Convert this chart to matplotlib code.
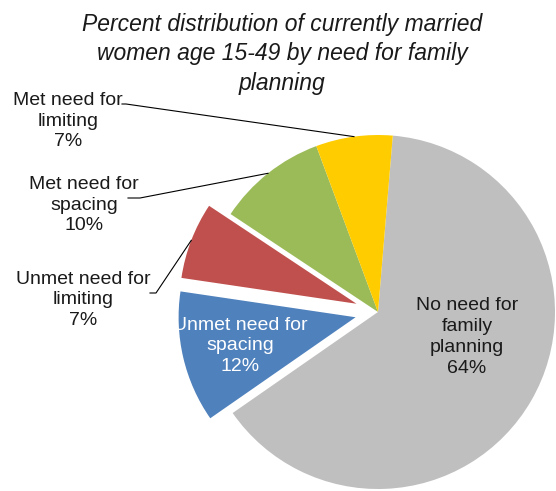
import numpy as np
import matplotlib
matplotlib.use("Agg")
import matplotlib.pyplot as plt

plt.rcParams['font.family'] = ['Liberation Sans', 'DejaVu Sans']

categories = ["No need for\nfamily\nplanning", "Unmet need for\nspacing", "Unmet need for\nlimiting",
              "Met need for\nspacing", "Met need for\nlimiting"]
values = [64, 12, 7, 10, 7]
colors = ["#BFBFBF", "#4F81BD", "#C0504D", "#9BBB59", "#FFCC00"]
explode = [0, 0.13, 0.13, 0, 0]
title = "Percent distribution of currently married\nwomen age 15-49 by need for family\nplanning"

W, H = 556, 491
R = 177.0
cx, cy = 378, 312

fig = plt.figure(figsize=(W / 100, H / 100), dpi=100)
ax = fig.add_axes([0, 0, 1, 1])

wedges, _ = ax.pie(values, colors=colors, explode=explode, startangle=85.2,
                   counterclock=False, radius=1)
ax.set_xlim(-cx / R, (W - cx) / R)
ax.set_ylim(-(H - cy) / R, cy / R)
ax.set_aspect('auto')
ax.axis('off')


def px(x, y):
    # pixel position (from top-left) to data coords
    return (x - cx) / R, (cy - y) / R


def edge_point(w):
    mid = np.deg2rad((w.theta1 + w.theta2) / 2)
    c = w.center
    return c[0] + w.r * np.cos(mid), c[1] + w.r * np.sin(mid)


labels = [f"{c}\n{v}%" for c, v in zip(categories, values)]
fs = 14
ls = 1.3
txt = '#1a1a1a'

# inside labels
ax.text(*px(467, 337), labels[0], ha='center', va='center', fontsize=fs, color=txt, linespacing=ls)
ax.text(*px(240, 346), labels[1], ha='center', va='center', fontsize=fs, color='white', linespacing=ls)

# outside labels with leader lines
ax.text(*px(83, 300), labels[2], ha='center', va='center', fontsize=fs, color=txt, linespacing=ls)
ax.text(*px(84, 205), labels[3], ha='center', va='center', fontsize=fs, color=txt, linespacing=ls)
ax.text(*px(68, 121), labels[4], ha='center', va='center', fontsize=fs, color=txt, linespacing=ls)

leaders = [(2, [(150, 293), (156, 293)]),
           (3, [(128, 198), (140, 198)]),
           (4, [(122, 104), (126, 104)])]
for i, pts in leaders:
    xs = [px(*p)[0] for p in pts] + [edge_point(wedges[i])[0]]
    ys = [px(*p)[1] for p in pts] + [edge_point(wedges[i])[1]]
    ax.plot(xs, ys, color='black', lw=0.8)

fig.text(0.508, 1 - 13 / H, title, ha='center', va='top', fontsize=16.5, style='italic',
         color=txt, linespacing=1.35)

fig.savefig("out.png", dpi=100)
